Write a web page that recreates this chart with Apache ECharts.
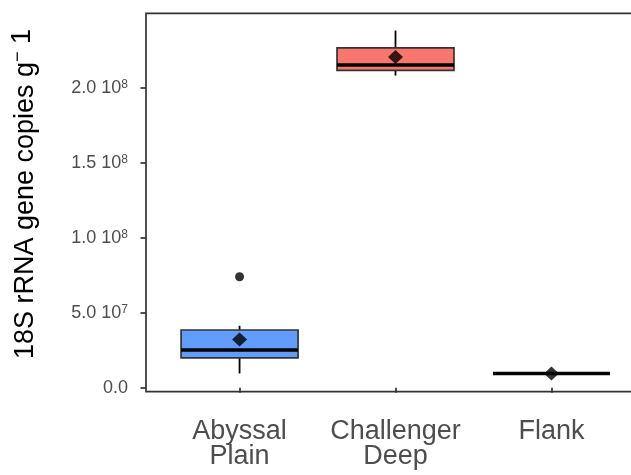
<!DOCTYPE html>
<html>
<head>
<meta charset="utf-8">
<script src="https://cdn.jsdelivr.net/npm/echarts@6/dist/echarts.min.js"></script>
<style>
  html, body { margin: 0; padding: 0; background: #fff; }
  #chart { width: 631px; height: 475px; }
</style>
</head>
<body>
<div id="chart"></div>
<script>
// Sampling sites and 18S rRNA gene copy summaries (copies per gram)
const categories = ['Abyssal Plain', 'Challenger Deep', 'Flank'];
const boxMin    = [9.5e6,  2.084e8, 9.5e6];
const boxQ1     = [1.99e7, 2.119e8, 9.5e6];
const boxMedian = [2.51e7, 2.155e8, 9.5e6];
const boxQ3     = [3.85e7, 2.269e8, 9.5e6];
const boxMax    = [4.13e7, 2.385e8, 9.5e6];
const groupMeans = [3.22e7, 2.209e8, 9.5e6];
const outlierSite = [1];
const outlierValues = [7.41e7];
const fillColors = ['#619CFF', '#F8766D', '#00BA38'];
const yTicks = [0, 5e7, 1e8, 1.5e8, 2e8];
const yTickLabels = ['0.0', '5.0 10^7', '1.0 10^8', '1.5 10^8', '2.0 10^8'];

const FONT = '"Liberation Sans", Arial, Helvetica, sans-serif';
const INK = '#333333';

const boxData = categories.map((c, i) => [i + 1, boxMin[i], boxQ1[i], boxMedian[i], boxQ3[i], boxMax[i]]);
const meanData = categories.map((c, i) => [i + 1, groupMeans[i]]);
const outlierData = outlierSite.map((s, i) => [s, outlierValues[i]]);

function renderBox(params, api) {
  const x = api.value(0);
  const pMin = api.coord([x, api.value(1)]);
  const pQ1 = api.coord([x, api.value(2)]);
  const pMed = api.coord([x, api.value(3)]);
  const pQ3 = api.coord([x, api.value(4)]);
  const pMax = api.coord([x, api.value(5)]);
  const half = api.size([0.75, 0])[0] / 2;
  const cx = pMed[0];
  const color = fillColors[params.dataIndex];
  return {
    type: 'group',
    children: [
      { type: 'line', shape: { x1: cx, y1: pMin[1], x2: cx, y2: pQ1[1] },
        style: { stroke: '#000', lineWidth: 1.8 } },
      { type: 'line', shape: { x1: cx, y1: pQ3[1], x2: cx, y2: pMax[1] },
        style: { stroke: '#000', lineWidth: 1.8 } },
      { type: 'rect', shape: { x: cx - half, y: pQ3[1], width: half * 2, height: pQ1[1] - pQ3[1] },
        style: { fill: color, stroke: INK, lineWidth: 1.7 } },
      { type: 'line', shape: { x1: cx - half, y1: pMed[1], x2: cx + half, y2: pMed[1] },
        style: { stroke: '#000', lineWidth: 3.6 } }
    ]
  };
}

function tickLabel(v) {
  const i = yTicks.findIndex(t => Math.abs(t - v) < 1);
  if (i < 0) return '';
  const parts = yTickLabels[i].split('^');
  return parts.length > 1 ? '{b|' + parts[0] + '}{s|' + parts[1] + '}' : '{b|' + parts[0] + '}';
}

const chart = echarts.init(document.getElementById('chart'), null, { renderer: 'canvas' });
chart.setOption({
  animation: false,
  backgroundColor: '#ffffff',
  grid: {
    left: 146, top: 13.3, width: 499, bottom: 83.3,
    outerBoundsMode: 'none',
    show: true, borderColor: INK, borderWidth: 1.7, backgroundColor: 'transparent',
    containLabel: false
  },
  xAxis: {
    type: 'value', min: 0.4, max: 3.6,
    axisLine: { show: false },
    splitLine: { show: false },
    axisTick: { show: true, customValues: [1, 2, 3], length: 5, lineStyle: { color: INK, width: 1.7 } },
    axisLabel: {
      customValues: [1, 2, 3],
      formatter: v => categories[Math.round(v) - 1].replace(' ', '\n'),
      color: '#4D4D4D', fontFamily: FONT, fontSize: 27, lineHeight: 25.5, margin: 27
    }
  },
  yAxis: {
    type: 'value', min: -2.7e6, max: 2.5e8,
    axisLine: { show: false },
    splitLine: { show: false },
    axisTick: { show: true, customValues: yTicks, length: 5.5, lineStyle: { color: INK, width: 1.7 } },
    axisLabel: {
      customValues: yTicks,
      formatter: tickLabel,
      margin: 18,
      rich: {
        b: { color: '#4D4D4D', fontFamily: FONT, fontSize: 18 },
        s: { color: '#4D4D4D', fontFamily: FONT, fontSize: 12, verticalAlign: 'top' }
      }
    },
    name: '{t|18S rRNA gene copies g}{m|−}{t| }{u|1}',
    nameLocation: 'middle',
    nameRotate: 90,
    nameGap: 104,
    nameTextStyle: {
      padding: [0, 0, 0, 17],
      rich: {
        t: { color: '#000', fontFamily: FONT, fontSize: 27 },
        m: { color: '#000', fontFamily: FONT, fontSize: 18, verticalAlign: 'top' },
        u: { color: '#000', fontFamily: FONT, fontSize: 27, padding: [0, 0, 6, 0] }
      }
    }
  },
  series: [
    {
      type: 'custom',
      renderItem: renderBox,
      encode: { x: 0, y: [1, 2, 3, 4, 5] },
      data: boxData,
      z: 2
    },
    {
      type: 'scatter',
      data: meanData,
      symbol: 'diamond',
      symbolSize: [15, 14],
      itemStyle: { color: '#000' },
      z: 4
    },
    {
      type: 'scatter',
      data: outlierData,
      symbol: 'circle',
      symbolSize: 9,
      itemStyle: { color: '#000' },
      z: 3
    }
  ]
});
</script>
</body>
</html>
